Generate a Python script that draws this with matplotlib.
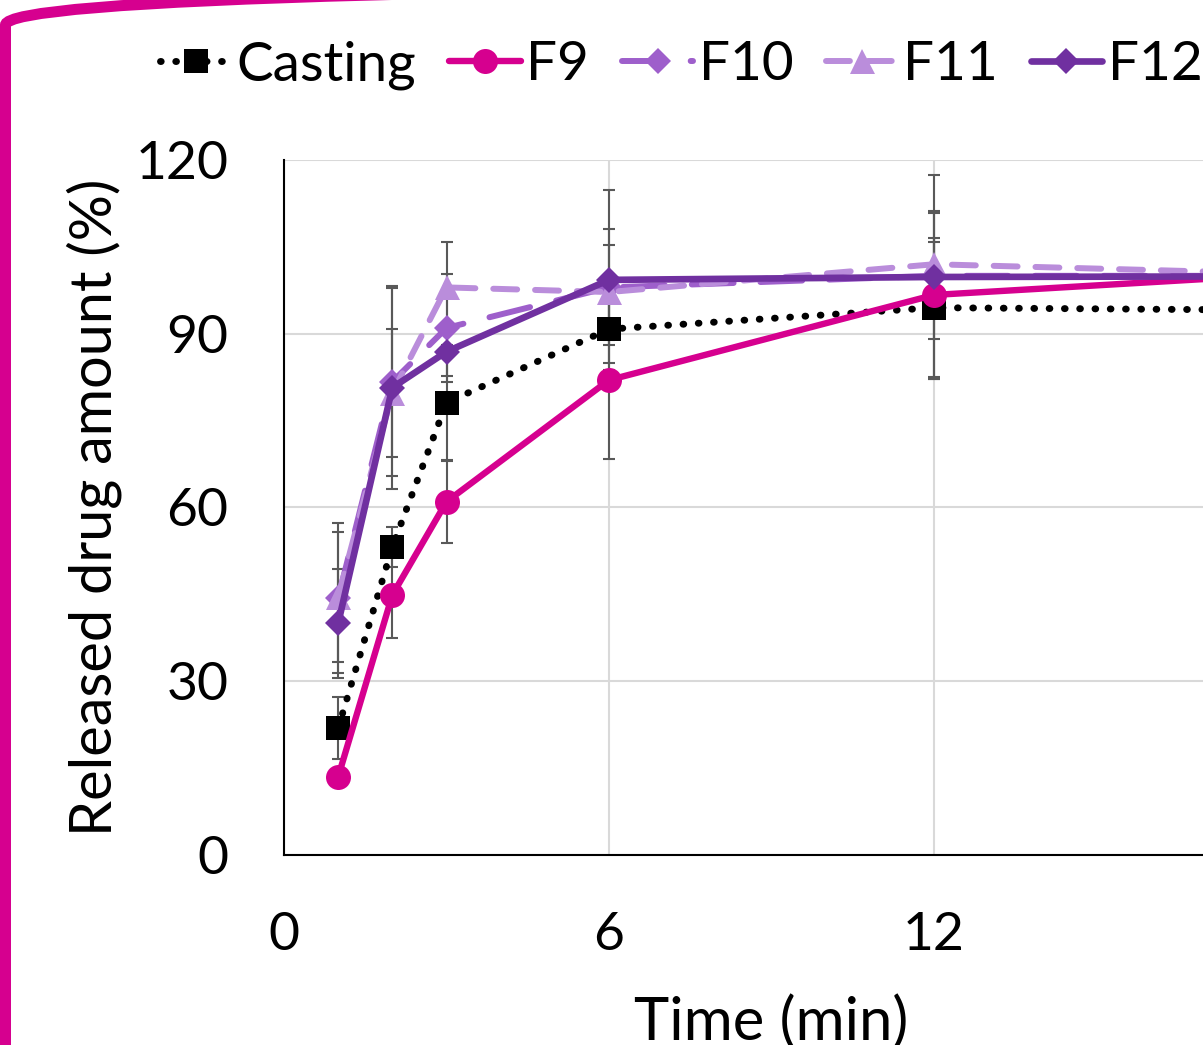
import matplotlib
matplotlib.use("Agg")
import matplotlib.pyplot as plt
from matplotlib.patches import FancyBboxPatch
from matplotlib.transforms import IdentityTransform

plt.rcParams['font.family'] = ['Lato', 'DejaVu Sans']

# ---- data ----
time_min = [1, 2, 3, 6, 12, 18]
casting = [21.9, 53.2, 78.1, 90.8, 94.5, 94.1]
casting_err = [5.3, 3.4, 9.9, 5.8, 12.0, 3.0]
f9 = [13.5, 44.9, 61.0, 82.0, 96.7, 100.0]
f9_err = [1.0, 7.4, 7.1, 13.6, 14.5, 3.0]
f10 = [44.4, 81.7, 91.0, 98.0, 100.0, 100.0]
f10_err = [12.9, 16.2, 9.3, 10.0, 10.9, 3.0]
f11 = [44.6, 79.8, 98.0, 97.2, 102.0, 100.5]
f11_err = [11.2, 11.0, 7.9, 8.2, 3.9, 3.0]
f12 = [40.0, 80.7, 86.9, 99.3, 99.8, 99.9]
f12_err = [9.4, 17.5, 4.2, 15.6, 17.6, 3.0]
labels = ["Casting", "F9", "F10", "F11", "F12"]
x_ticks = [0, 6, 12]
y_ticks = [0, 30, 60, 90, 120]

W, H = 1203, 1045
fig = plt.figure(figsize=(W / 100, H / 100), dpi=100)
ax = fig.add_axes([284 / W, 190 / H, 975 / W, 695 / H])

series = [casting, f9, f10, f11, f12]
errs = [casting_err, f9_err, f10_err, f11_err, f12_err]
for s, e in zip(series, errs):
    ax.errorbar(time_min, s, yerr=e, fmt='none', ecolor='#595959',
                elinewidth=1.5, capsize=4.3, capthick=1.5, zorder=2)

handles = []
h, = ax.plot(time_min, casting, color='black', lw=5.0,
             linestyle=(0, (0.1, 2.1)), dash_capstyle='round',
             marker='s', markersize=17, markeredgewidth=0, zorder=3)
handles.append(h)
h, = ax.plot(time_min, f9, color='#D6008F', lw=4.6, solid_capstyle='round',
             marker='o', markersize=18, markeredgewidth=0, zorder=4)
handles.append(h)
h, = ax.plot(time_min, f10, color='#9E5FCB', lw=4.3,
             linestyle=(0, (7, 4.5)), dash_capstyle='round',
             marker='D', markersize=13, markeredgewidth=0, zorder=5)
handles.append(h)
h, = ax.plot(time_min, f11, color='#BA8DDB', lw=4.3,
             linestyle=(0, (4, 3)), dash_capstyle='round',
             marker='^', markersize=18, markeredgewidth=0, zorder=6)
handles.append(h)
h, = ax.plot(time_min, f12, color='#7030A0', lw=4.8, solid_capstyle='round',
             marker='D', markersize=13.5, markeredgewidth=0, zorder=7)
handles.append(h)

ax.set_xlim(0, 18)
ax.set_ylim(0, 120)
ax.set_xticks(x_ticks)
ax.set_yticks(y_ticks)
ax.tick_params(axis='both', length=0, labelsize=38.5)
ax.tick_params(axis='y', pad=40)
ax.tick_params(axis='x', pad=41)
ax.grid(True, color='#D9D9D9', lw=1.5, zorder=0)
ax.set_axisbelow(True)
for sp in ['top', 'right']:
    ax.spines[sp].set_visible(False)
for sp in ['left', 'bottom']:
    ax.spines[sp].set_linewidth(1.5)
    ax.spines[sp].set_color('black')

ax.set_xlabel("Time (min)", fontsize=43, labelpad=26)
ax.set_ylabel("Released drug amount (%)", fontsize=41.5, labelpad=10)

fig.legend(handles, labels, loc='center left', bbox_to_anchor=(160 / W, 1 - 65 / H),
           ncol=5, frameon=False, fontsize=39.5, handlelength=1.3,
           handletextpad=0.1, columnspacing=0.6, borderpad=0, borderaxespad=0)

# magenta rounded frame (partially outside the figure)
frame = FancyBboxPatch((5.5, -200), 1500, H + 15 + 200,
                       boxstyle="round,pad=0,rounding_size=40",
                       transform=IdentityTransform(), fill=False,
                       edgecolor='#D6008F', linewidth=11 * 72 / 100,
                       clip_on=False)
fig.add_artist(frame)

fig.savefig("out.png", dpi=100)
